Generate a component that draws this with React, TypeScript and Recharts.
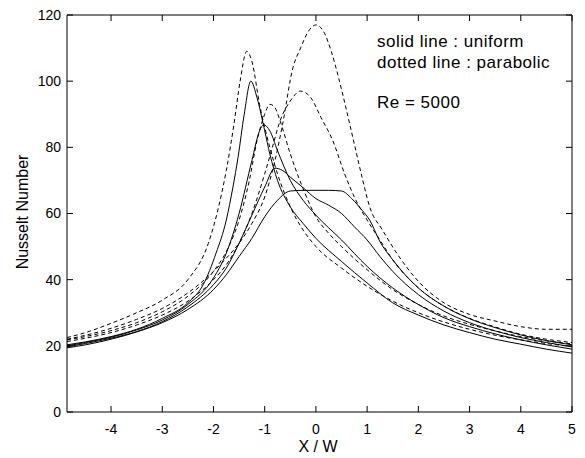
import React from "react";
import {
  LineChart,
  Line,
  XAxis,
  YAxis,
  Customized,
} from "recharts";

// X / W positions and Nusselt numbers, [x, Nu]
const uniform1 = [
  [-4.86, 20.3], [-4.5, 21.2], [-4, 22.8], [-3.5, 25], [-3, 28.3], [-2.5, 33], [-2.2, 38.5],
  [-1.95, 48], [-1.75, 58], [-1.62, 68], [-1.52, 77], [-1.4, 90], [-1.27, 100], [-1.15, 95],
  [-1, 85], [-0.9, 78], [-0.75, 70], [-0.5, 62], [-0.25, 57], [0, 52.5], [0.5, 45.5], [1, 39],
  [1.5, 33], [2, 29.3], [2.5, 26.3], [3, 24], [3.5, 22], [4, 20.5], [4.5, 19], [5, 17.8],
];
const uniform2 = [
  [-4.86, 20], [-4.5, 21], [-4, 22.6], [-3.5, 24.8], [-3, 27.8], [-2.5, 32.5], [-2, 40.5],
  [-1.75, 48], [-1.5, 60], [-1.25, 76], [-1.1, 85], [-1.02, 86.8], [-0.9, 85], [-0.75, 79],
  [-0.5, 70], [-0.25, 64], [0, 59.5], [0.5, 52], [1, 44], [1.5, 37.5], [2, 32.5], [2.5, 28.5],
  [3, 25.8], [3.5, 23.6], [4, 21.8], [4.5, 20.3], [5, 19],
];
const uniform3 = [
  [-4.86, 19.7], [-4.5, 20.7], [-4, 22.3], [-3.5, 24.3], [-3, 27.3], [-2.5, 31.8], [-2, 38.5],
  [-1.75, 43.5], [-1.5, 51], [-1.25, 59.5], [-1, 68], [-0.8, 73.7], [-0.65, 73], [-0.5, 71],
  [-0.25, 67.8], [0, 64.5], [0.25, 62.5], [0.5, 60], [0.75, 56], [1, 52], [1.25, 47],
  [1.5, 42.5], [2, 35.5], [2.5, 30.5], [3, 27], [3.5, 24.5], [4, 22.5], [4.5, 21], [5, 19.7],
];
const uniform4 = [
  [-4.86, 19.4], [-4.5, 20.3], [-4, 22], [-3.5, 24.2], [-3, 27], [-2.5, 31], [-2, 37],
  [-1.75, 41.5], [-1.5, 47], [-1.25, 52.5], [-1, 59], [-0.75, 64], [-0.5, 66.8], [-0.25, 67],
  [0, 67], [0.25, 67], [0.5, 66.8], [0.7, 64.5], [0.9, 61], [1.05, 58], [1.25, 51.5],
  [1.5, 46], [2, 37.5], [2.5, 32], [3, 28.2], [3.5, 25.5], [4, 23.3], [4.5, 21.6], [5, 20.3],
];

const parabolic1 = [
  [-4.86, 22.5], [-4.5, 24], [-4, 26.8], [-3.5, 30], [-3, 33.8], [-2.5, 40], [-2.1, 51],
  [-1.9, 62], [-1.75, 73], [-1.6, 87], [-1.48, 100], [-1.35, 109], [-1.25, 106], [-1.1, 93],
  [-0.9, 80], [-0.75, 72], [-0.5, 62], [-0.25, 55], [0, 50], [0.5, 43.5], [1, 38], [1.5, 33.5],
  [2, 30], [2.5, 27.2], [3, 25], [3.5, 23.2], [4, 21.8], [4.5, 20.7], [5, 19.8],
];
const parabolic2 = [
  [-4.86, 21.8], [-4.5, 22.8], [-4, 24.6], [-3.5, 27], [-3, 30.3], [-2.5, 35], [-2, 42.5],
  [-1.75, 48.5], [-1.5, 58], [-1.3, 70], [-1.15, 82], [-1, 90], [-0.9, 93], [-0.8, 92],
  [-0.7, 88], [-0.5, 78], [-0.25, 67.5], [0, 59], [0.25, 54], [0.5, 50], [1, 43], [1.5, 37],
  [2, 32.5], [2.5, 29], [3, 26.5], [3.5, 24.5], [4, 22.8], [4.5, 21.5], [5, 20.6],
];
const parabolic3 = [
  [-4.86, 21.3], [-4.5, 22.3], [-4, 24], [-3.5, 26.3], [-3, 29.3], [-2.5, 33.5], [-2, 40],
  [-1.75, 44.5], [-1.5, 51], [-1.25, 60], [-1, 72], [-0.85, 80], [-0.7, 88], [-0.5, 94],
  [-0.3, 97], [-0.1, 95], [0.1, 89], [0.33, 82], [0.56, 72], [0.75, 65], [1, 58], [1.25, 52],
  [1.5, 46], [2, 37.5], [2.5, 32], [3, 28.3], [3.5, 25.7], [4, 23.5], [4.5, 22], [5, 21],
];
const parabolic4 = [
  [-4.86, 22], [-4.5, 23.2], [-4, 25.3], [-3.5, 28], [-3, 31.3], [-2.5, 36], [-2, 42.5],
  [-1.75, 46.5], [-1.5, 51], [-1.25, 57], [-1, 65], [-0.8, 76], [-0.65, 87], [-0.45, 104],
  [-0.3, 110], [-0.15, 115], [0, 117], [0.15, 115], [0.3, 109], [0.46, 100], [0.6, 91],
  [0.75, 81], [0.9, 71], [1.05, 62], [1.3, 55], [1.6, 47.5], [2, 39.5], [2.5, 33], [3, 29.5],
  [3.5, 27.5], [4, 25.8], [4.5, 25], [5, 25],
];

const xTicks = [-4, -3, -2, -1, 0, 1, 2, 3, 4, 5];
const yTicks = [0, 20, 40, 60, 80, 100, 120];
const notes = ["solid line : uniform", "dotted line : parabolic", "Re = 5000"];

const solids = [uniform1, uniform2, uniform3, uniform4];
const dashed = [parabolic1, parabolic2, parabolic3, parabolic4];

const toPts = (arr: number[][]) => arr.map(([x, y]) => ({ x, y }));
const blank = () => "";

const FONT = '"Liberation Sans", Arial, sans-serif';
const X_DOMAIN: [number, number] = [-4.86, 5];
const Y_DOMAIN: [number, number] = [0, 120];

function Texts() {
  return (
    <g fontFamily={FONT} fill="#000">
      <text x={377} y={47} fontSize={17} letterSpacing={0.5}>{notes[0]}</text>
      <text x={377} y={68} fontSize={17} letterSpacing={0.5}>{notes[1]}</text>
      <text x={377} y={108} fontSize={17} letterSpacing={0.5}>{notes[2]}</text>
      <text x={318} y={452} fontSize={16} textAnchor="middle">X / W</text>
      <text x={28} y={212} fontSize={16} textAnchor="middle" transform="rotate(-90 28 212)">
        Nusselt Number
      </text>
    </g>
  );
}

export default function App() {
  const tickStyle = { fill: "#000", fontSize: 14, fontFamily: FONT };
  return (
    <div style={{ position: "absolute", left: 0, top: 0, background: "#fff" }}>
      <LineChart width={585} height={458} margin={{ top: 15, right: 13, bottom: 0, left: 0 }}>
        {/* labelled axes, no tick lines */}
        <XAxis
          xAxisId="b"
          dataKey="x"
          type="number"
          domain={X_DOMAIN}
          ticks={xTicks}
          allowDataOverflow
          height={46}
          tickLine={false}
          tickSize={0}
          tickMargin={12}
          stroke="#000"
          tick={tickStyle}
        />
        <YAxis
          yAxisId="l"
          type="number"
          domain={Y_DOMAIN}
          ticks={yTicks}
          width={67}
          tickLine={false}
          tickSize={0}
          tickMargin={6}
          stroke="#000"
          tick={tickStyle}
        />
        {/* mirrored axes: inward tick marks on all four sides */}
        <XAxis
          xAxisId="bt"
          mirror
          dataKey="x"
          type="number"
          domain={X_DOMAIN}
          ticks={xTicks}
          allowDataOverflow
          height={1}
          tickSize={6}
          tickFormatter={blank}
          axisLine={false}
          stroke="#000"
        />
        <XAxis
          xAxisId="t"
          orientation="top"
          mirror
          dataKey="x"
          type="number"
          domain={X_DOMAIN}
          ticks={xTicks}
          allowDataOverflow
          height={1}
          tickSize={6}
          tickFormatter={blank}
          stroke="#000"
        />
        <YAxis
          yAxisId="lt"
          mirror
          type="number"
          domain={Y_DOMAIN}
          ticks={yTicks}
          allowDataOverflow
          width={1}
          tickSize={6}
          tickFormatter={blank}
          axisLine={false}
          stroke="#000"
        />
        <YAxis
          yAxisId="r"
          orientation="right"
          mirror
          type="number"
          domain={Y_DOMAIN}
          ticks={yTicks}
          allowDataOverflow
          width={1}
          tickSize={6}
          tickFormatter={blank}
          stroke="#000"
        />
        {solids.map((s, i) => (
          <Line
            key={"s" + i}
            xAxisId="b"
            yAxisId="l"
            data={toPts(s)}
            dataKey="y"
            type="monotone"
            stroke="#000"
            strokeWidth={1}
            dot={false}
            isAnimationActive={false}
          />
        ))}
        {dashed.map((s, i) => (
          <Line
            key={"d" + i}
            xAxisId="b"
            yAxisId="l"
            data={toPts(s)}
            dataKey="y"
            type="monotone"
            stroke="#000"
            strokeWidth={1}
            strokeDasharray="4 3"
            dot={false}
            isAnimationActive={false}
          />
        ))}
        <Line xAxisId="t" yAxisId="r" data={toPts(uniform1)} dataKey="y" stroke="none" dot={false} isAnimationActive={false} />
        <Line xAxisId="bt" yAxisId="lt" data={toPts(uniform1)} dataKey="y" stroke="none" dot={false} isAnimationActive={false} />
        <Customized component={<Texts />} />
      </LineChart>
    </div>
  );
}
